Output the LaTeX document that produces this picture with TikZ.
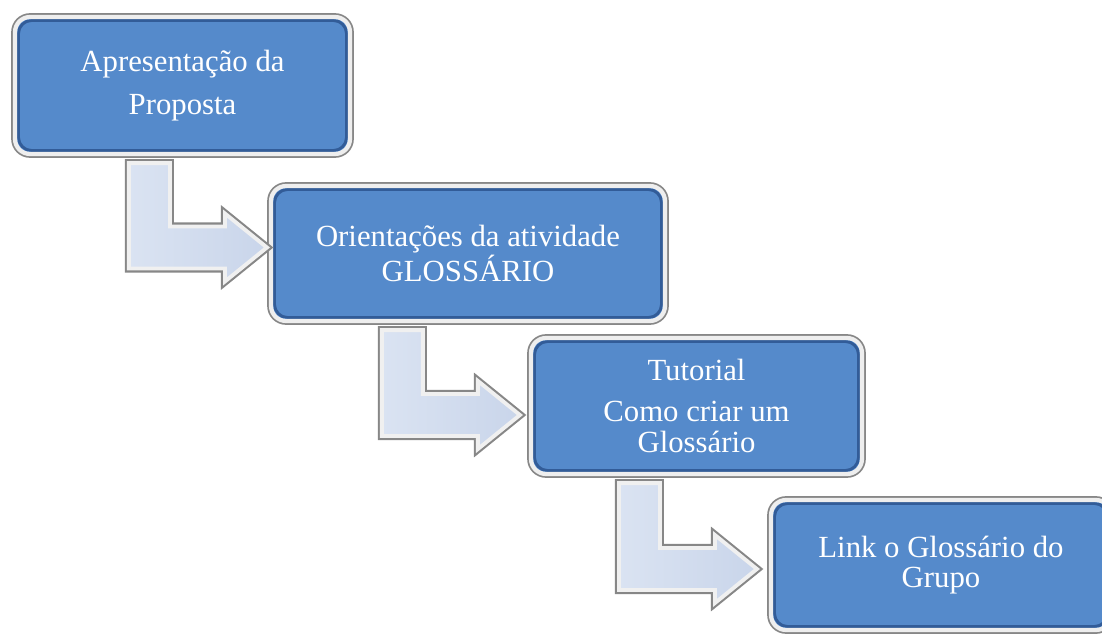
\documentclass[tikz,border=0pt]{standalone}
\usepackage{fontspec}
\setmainfont{Liberation Serif}
\usepackage{tikz}
\usetikzlibrary{calc}
\definecolor{boxblue}{RGB}{85,138,203}
\definecolor{boxedge}{RGB}{50,92,152}
\definecolor{rimlight}{RGB}{238,238,238}
\definecolor{rimdark}{RGB}{135,135,135}
\definecolor{arrowfill}{RGB}{201,213,234}
\definecolor{arrowlight}{RGB}{218,227,242}

\begin{document}
\begin{tikzpicture}[x=0.02cm,y=-0.02cm,line join=miter,
  stage node/.style={rectangle,rounded corners=0.3cm,fill=boxblue,draw=rimlight,line width=2.4pt,
    preaction={draw=rimdark,line width=4.4pt},text=white,align=center,inner sep=0pt,
    font=\fontsize{17.5}{17.5}\selectfont,
    path picture={\draw[boxedge,line width=1.6pt,rounded corners=0.26cm]
      ([shift={(2pt,2pt)}]path picture bounding box.south west) rectangle
      ([shift={(-2pt,-2pt)}]path picture bounding box.north east);}},
  bent arrow/.style={left color=arrowlight,right color=arrowfill,draw=white!88!gray,line width=2.2pt,
    preaction={draw=rimdark,line width=4.6pt}}]
  \useasboundingbox (0,0) rectangle (1102,635);
  \clip (0,0) rectangle (1102,635);

  \node[stage node,minimum width=6.7cm,minimum height=2.74cm] (1) at (182.5,85.5) {Apresentação da\\[7pt]Proposta};
  \node[stage node,minimum width=7.88cm,minimum height=2.7cm] (2) at (468,253.5) {Orientações da atividade\\GLOSSÁRIO};
  \node[stage node,minimum width=6.62cm,minimum height=2.72cm] (3) at (696.5,406) {Tutorial\\[6pt]Como criar um\\Glossário};
  \node[stage node,minimum width=6.8cm,minimum height=2.6cm] (4) at (941,565) {Link o Glossário do\\Grupo};

  \foreach \a/\b/\dx/\dy in {1/2/-2/-6,2/3/-9/9,3/4/-12/4} {
    \coordinate (tip) at ([shift={(\dx,\dy)}]\b.west);
    \coordinate (top) at ([shift={(0,7)}]\a.south);
    \coordinate (low) at ([shift={(-138,21)}]tip);
    \draw[bent arrow] (tip) -- ++(-42,-34) -- ++(0,13) -- ++(-55,0) coordinate (elbow)
      -- (elbow |- top) -- (low |- top) -- (low) -- ++(96,0) -- ++(0,13) -- cycle;
  }
\end{tikzpicture}
\end{document}
